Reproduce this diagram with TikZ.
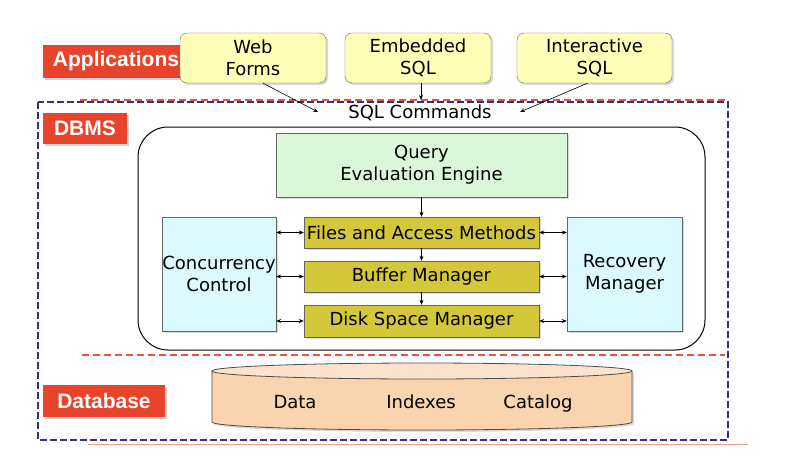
\documentclass[tikz,border=0pt]{standalone}
\usepackage{fontspec}
\setmainfont{DejaVu Sans}
\newfontfamily\labfont{Liberation Sans}
\usetikzlibrary{shadows,arrows.meta}
\definecolor{labred}{HTML}{E8432B}
\definecolor{appyellow}{HTML}{FFFFB8}
\definecolor{qgreen}{HTML}{DAF7DA}
\definecolor{ccyan}{HTML}{DAFAFF}
\definecolor{olive}{HTML}{D4C83A}
\definecolor{peach}{HTML}{F9D4AF}
\definecolor{peachtop}{HTML}{FCE4CC}
\definecolor{dbblue}{HTML}{3D2F7A}
\definecolor{dashred}{HTML}{E8553F}
\definecolor{thinred}{HTML}{E8A090}
\begin{document}
\begin{tikzpicture}[x=1pt,y=-1pt,
  lab/.style={fill=labred,text=white,font=\labfont\bfseries\fontsize{21}{24}\selectfont,
    inner sep=0pt,drop shadow={opacity=0.35,shadow xshift=2pt,shadow yshift=-2pt}},
  appbox/.style={draw=black!60,fill=appyellow,rounded corners=7pt,align=center,
    font=\fontsize{18}{22}\selectfont,inner sep=0pt,
    drop shadow={opacity=0.3,shadow xshift=2pt,shadow yshift=-2pt}},
  sqbox/.style={draw=black!60,align=center,font=\fontsize{18}{22}\selectfont,inner sep=0pt,
    drop shadow={opacity=0.3,shadow xshift=2pt,shadow yshift=-2pt}},
  arr/.style={-{Stealth[length=5pt,width=4pt]},line width=0.6pt},
  darr/.style={{Stealth[length=5pt,width=4pt]}-{Stealth[length=5pt,width=4pt]},line width=0.6pt},
  dbtext/.style={font=\fontsize{18}{22}\selectfont,anchor=base}
]
\useasboundingbox (0,0) rectangle (786,466);

% labels
\node[lab,minimum width=146pt,minimum height=33pt] (applab) at (116,61.5) {Applications};
\node[lab,minimum width=84pt,minimum height=31pt] (dbmslab) at (85,128.5) {DBMS};
\node[lab,minimum width=122pt,minimum height=32pt] (dblab) at (104,401) {Database};

% application boxes
\node[appbox,minimum width=146pt,minimum height=50pt] (web) at (253,58) {Web\\Forms};
\node[appbox,minimum width=146pt,minimum height=50pt] (emb) at (418,58) {Embedded\\SQL};
\node[appbox,minimum width=155pt,minimum height=50pt] (inter) at (594.5,58) {Interactive\\SQL};

% dashed boundaries
\draw[dashred,line width=1.4pt,dash pattern=on 7pt off 4pt] (80,100) -- (727,100);
\draw[dbblue,line width=1.4pt,dash pattern=on 7pt off 3pt] (38,102) rectangle (728,440);
\draw[dashred,line width=1.4pt,dash pattern=on 7pt off 4pt] (82,355) -- (725,355);
\draw[thinred,line width=0.6pt] (88,444) -- (748,444);

\node[font=\fontsize{18}{22}\selectfont] (sqlc) at (420,113) {SQL Commands};
\coordinate (sqlw) at (318,112);
\coordinate (sqle) at (520,112);
\coordinate (sqlt) at (421,100);
\draw[arr] (web.south) ++(10,0) coordinate (webs) -- (sqlw);
\draw[arr] (emb.south -| sqlt) -- (sqlt);
\draw[arr] (inter.south) ++(-7,0) coordinate (ints) -- (sqle);

% DBMS inner box
\draw[line width=1pt,rounded corners=30pt] (138,127) rectangle (705,350);

\node[sqbox,fill=qgreen,minimum width=291pt,minimum height=64pt] (qee) at (421.5,165) {Query\\Evaluation Engine};
\node[sqbox,fill=ccyan,minimum width=114pt,minimum height=114pt] (cc) at (219,274) {Concurrency\\Control};
\node[sqbox,fill=ccyan,minimum width=115pt,minimum height=114pt] (rm) at (624.5,274) {Recovery\\Manager};
\node[sqbox,fill=olive,minimum width=235pt,minimum height=31pt] (fam) at (421.5,232.5) {Files and Access Methods};
\node[sqbox,fill=olive,minimum width=235pt,minimum height=31pt] (bm) at (421.5,276.5) {Buffer Manager};
\node[sqbox,fill=olive,minimum width=235pt,minimum height=32pt] (dsm) at (421.5,321) {Disk Space Manager};

\draw[arr] (qee) -- (fam);
\draw[arr] (fam) -- (bm);
\draw[arr] (bm) -- (dsm);
\foreach \b in {fam,bm,dsm}{
  \draw[darr] (cc.east |- \b.west) -- (\b.west);
  \draw[darr] (\b.east) -- (rm.west |- \b.east);
}

% database cylinder
\draw[black!70,line width=0.8pt,fill=peach,drop shadow={opacity=0.3,shadow xshift=2pt,shadow yshift=-2pt}]
  (212,371) -- (212,422) arc[start angle=180,end angle=360,x radius=210pt,y radius=8pt] -- (632,371) -- cycle;
\draw[black!70,line width=0.8pt,fill=peachtop] (422,371) ellipse[x radius=210pt,y radius=8pt];
\node[dbtext] (data) at (295,408) {Data};
\node[dbtext] (idx) at (421,408) {Indexes};
\node[dbtext] (cat) at (538,408) {Catalog};
\end{tikzpicture}
\end{document}
